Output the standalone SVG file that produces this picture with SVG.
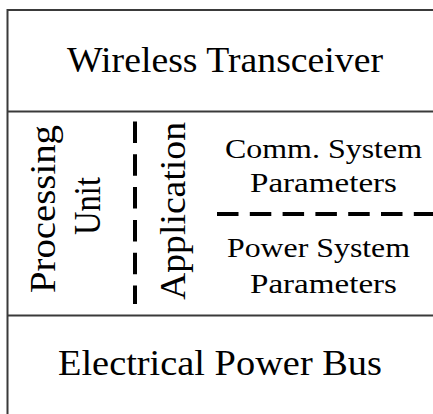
<svg xmlns="http://www.w3.org/2000/svg" width="433" height="414" viewBox="0 0 433 414">
  <style>
    .frame { stroke: #3a3a3a; stroke-width: 2; fill: none; }
    .dash { stroke: #000; stroke-width: 4; fill: none; stroke-dasharray: 21.5 11.3; }
    .big { font-family: "Liberation Serif", "Times New Roman", serif; font-size: 36px; fill: #000; }
    .small { font-family: "Liberation Serif", "Times New Roman", serif; font-size: 28px; fill: #000; }
  </style>
  <rect width="433" height="414" fill="#fff"/>
  <g id="frame">
    <line class="frame" x1="7.5" y1="10" x2="433" y2="10"/>
    <line class="frame" x1="7.5" y1="9" x2="7.5" y2="414"/>
    <line class="frame" x1="7.5" y1="111.5" x2="433" y2="111.5"/>
    <line class="frame" x1="7.5" y1="315.5" x2="433" y2="315.5"/>
  </g>
  <g id="connectors">
    <line class="dash" x1="135" y1="121.5" x2="135" y2="304"/>
    <line class="dash" x1="217" y1="214" x2="433" y2="214"/>
  </g>
  <g id="wireless-transceiver">
    <text class="big" x="67" y="72" textLength="316" lengthAdjust="spacingAndGlyphs">Wireless Transceiver</text>
  </g>
  <g id="processing-unit">
    <text class="big" text-anchor="middle" transform="translate(55,209) rotate(-90)" textLength="168" lengthAdjust="spacingAndGlyphs">Processing</text>
    <text class="big" text-anchor="middle" transform="translate(100,206) rotate(-90)" textLength="58" lengthAdjust="spacingAndGlyphs" style="font-size:38px">Unit</text>
  </g>
  <g id="application">
    <text class="big" text-anchor="middle" transform="translate(185,211) rotate(-90)" textLength="178" lengthAdjust="spacingAndGlyphs">Application</text>
  </g>
  <g id="comm-system-parameters">
    <text class="small" x="225" y="158" textLength="197" lengthAdjust="spacingAndGlyphs">Comm. System</text>
    <text class="small" x="250" y="192" textLength="147" lengthAdjust="spacingAndGlyphs">Parameters</text>
  </g>
  <g id="power-system-parameters">
    <text class="small" x="227" y="257" textLength="183" lengthAdjust="spacingAndGlyphs">Power System</text>
    <text class="small" x="250" y="293" textLength="147" lengthAdjust="spacingAndGlyphs">Parameters</text>
  </g>
  <g id="electrical-power-bus">
    <text class="big" x="58" y="375" textLength="324" lengthAdjust="spacingAndGlyphs">Electrical Power Bus</text>
  </g>
</svg>
